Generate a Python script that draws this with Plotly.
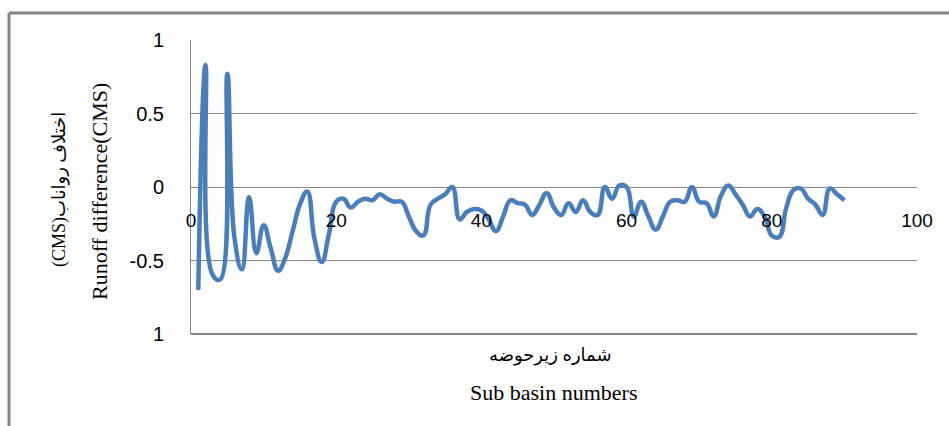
import plotly.graph_objects as go

# Data
sub_basins = list(range(1, 91))
runoff_diff = [
    -0.70, 0.83, -0.60, -0.63, 0.77, -0.35, -0.56, -0.07, -0.45, -0.26,
    -0.42, -0.57, -0.48, -0.30, -0.12, -0.03, -0.35, -0.51, -0.32, -0.10,
    -0.08, -0.14, -0.10, -0.08, -0.09, -0.05, -0.08, -0.10, -0.10, -0.20,
    -0.30, -0.33, -0.12, -0.08, -0.05, 0.00, -0.22, -0.17, -0.15, -0.16,
    -0.22, -0.30, -0.20, -0.09, -0.11, -0.12, -0.19, -0.12, -0.04, -0.14,
    -0.19, -0.11, -0.17, -0.09, -0.17, -0.19, 0.00, -0.08, 0.01, 0.00,
    -0.20, -0.10, -0.20, -0.29, -0.20, -0.10, -0.09, -0.10, 0.00, -0.10,
    -0.11, -0.20, -0.06, 0.01, -0.05, -0.12, -0.20, -0.15, -0.20, -0.33,
    -0.34, -0.14, -0.02, -0.01, -0.08, -0.12, -0.19, -0.01, -0.05, -0.09,
]
x_ticks = [0, 20, 40, 60, 80, 100]
y_ticks = [-1, -0.5, 0, 0.5, 1]
y_tick_labels = ["1", "-0.5", "0", "0.5", "1"]
x_title_fa = "شماره زیرحوضه"
x_title_en = "Sub basin numbers"
y_title_fa = "(CMS)اختلاف رواناب"
y_title_en = "Runoff difference(CMS)"

W, H = 949, 426
L, R, T, B = 191, 917, 40, 334
pw, ph = R - L, B - T


def px(xp):
    return (xp - L) / pw


def py(yp):
    return (B - yp) / ph


GRAY = "#868686"
fig = go.Figure()
fig.add_trace(go.Scatter(
    x=sub_basins, y=runoff_diff, mode="lines",
    line=dict(color="#4A7EBB", width=4.5, shape="spline", smoothing=1.3),
    hoverinfo="skip", showlegend=False,
))

fig.update_layout(
    width=W, height=H,
    margin=dict(l=L, r=W - R, t=T, b=H - B, pad=0),
    paper_bgcolor="white", plot_bgcolor="white",
    xaxis=dict(
        range=[0, 100], tickvals=x_ticks, ticktext=[str(v) for v in x_ticks],
        showgrid=False, zeroline=False, showline=False, ticks="",
        anchor="free", position=0.5, ticklabelstandoff=20,
        tickfont=dict(family="Liberation Sans", size=19, color="black"),
    ),
    yaxis=dict(
        range=[-1, 1], tickvals=y_ticks, ticktext=y_tick_labels,
        showgrid=True, gridcolor=GRAY, gridwidth=1, zeroline=False,
        showline=True, linecolor=GRAY, linewidth=1, ticks="",
        ticklabelstandoff=22,
        tickfont=dict(family="Liberation Sans", size=20, color="black"),
    ),
    font=dict(family="Liberation Serif", color="black"),
)

shapes = [
    # thicker bottom border of plot area
    dict(type="line", xref="paper", yref="paper", x0=0, x1=1, y0=0, y1=0,
         line=dict(color=GRAY, width=2)),
    # outer chart border (top and left)
    dict(type="line", xref="paper", yref="paper", x0=px(9), x1=px(W + 5),
         y0=py(13), y1=py(13), line=dict(color=GRAY, width=3)),
    dict(type="line", xref="paper", yref="paper", x0=px(9), x1=px(9),
         y0=py(13), y1=py(H + 5), line=dict(color=GRAY, width=3)),
]
fig.update_layout(shapes=shapes)

ann = [
    dict(text=x_title_fa, x=px(550), y=py(355), font=dict(size=18,
         family="Liberation Serif, DejaVu Sans")),
    dict(text=x_title_en, x=px(553), y=py(392), font=dict(size=22)),
    dict(text=y_title_en, x=px(99), y=py(192), textangle=-90, font=dict(size=22)),
    dict(text=y_title_fa, x=px(59), y=py(190), textangle=-90, font=dict(size=18,
         family="Liberation Serif, DejaVu Sans")),
]
for a in ann:
    a.update(xref="paper", yref="paper", showarrow=False, xanchor="center",
             yanchor="middle")
fig.update_layout(annotations=ann)

fig.write_html("out.html",
               config={"displayModeBar": False},
               post_script="document.body.style.margin='0';"
                           "document.body.style.overflow='hidden';")
